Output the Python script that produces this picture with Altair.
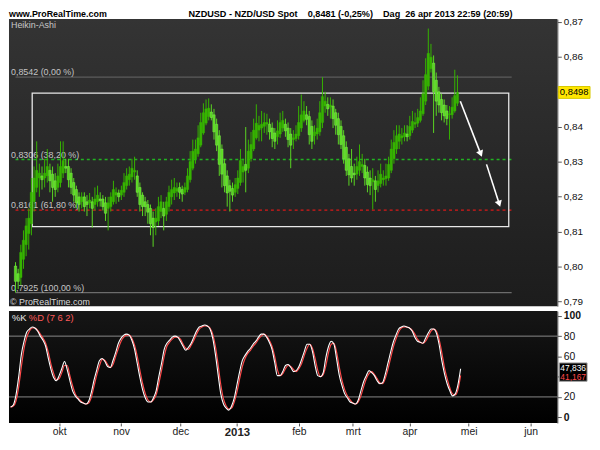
import json
import altair as alt
import pandas as pd

# ---------------- data ----------------
IDX = list(range(-18, 150))  # trading-day index, 0 = 1 okt 2012

OPEN = [8001,7979,7968,8020,8062,8094,8122,8185,8226,8253,8259,8253,8259,8275,8264,8245,8226,8240,
        8267,8286,8286,8267,8240,8220,8199,8185,8199,8185,
        8182,8185,8177,8185,8193,8193,8182,8166,8171,8185,
        8204,8210,8204,8212,8231,8248,8256,8270,8259,8226,
        8204,8185,8177,8166,8138,8127,8130,8157,8166,8149,
        8171,8199,8210,8215,8226,8220,8212,8220,8248,8281,
        8308,8322,8347,8382,8410,8429,8442,8434,8407,8374,
        8336,8294,8259,8231,8223,8212,8223,8240,8270,8292,
        8281,8308,8336,8368,8390,8396,8401,8407,8407,8396,
        8382,8371,8379,8396,8407,8396,8379,8363,8366,8374,
        8396,8418,8434,8429,8401,8374,8379,8385,8412,8459,
        8464,8456,8459,8440,8423,8401,8374,8341,8308,8286,
        8267,8264,8275,8286,8289,8270,8253,8242,8245,8231,
        8237,8248,8251,8253,8275,8308,8336,8358,8368,8371,
        8379,8374,8390,8407,8410,8418,8437,8473,8516,8566,
        8582,8533,8500,8478,8462,8445,8434,8434,8445,8467]

CLOSE = [7957,7957,8040,8075,8116,8138,8212,8253,8275,8267,8248,8267,8286,8245,8226,8220,8259,8286,
         8303,8281,8248,8226,8204,8182,8177,8199,8171,8177,
         8190,8166,8193,8204,8188,8171,8152,8182,8199,8220,
         8212,8199,8218,8240,8259,8264,8281,8275,8212,8177,
         8171,8171,8155,8122,8111,8138,8171,8185,8144,8185,
         8212,8220,8226,8223,8212,8207,8226,8259,8300,8330,
         8336,8368,8412,8440,8451,8453,8426,8385,8347,8292,
         8264,8231,8210,8215,8204,8234,8253,8303,8286,8275,
         8330,8349,8390,8410,8404,8407,8412,8412,8385,8366,
         8358,8388,8412,8418,8388,8363,8347,8368,8379,8412,
         8434,8445,8421,8377,8358,8385,8396,8440,8486,8473,
         8451,8462,8423,8404,8377,8349,8308,8275,8262,8253,
         8262,8286,8300,8292,8253,8234,8231,8248,8220,8245,
         8264,8253,8259,8292,8336,8355,8374,8379,8374,8382,
         8371,8401,8415,8412,8426,8445,8494,8549,8610,8599,
         8500,8473,8462,8440,8431,8423,8437,8456,8489,8498]

HIGH = [8012,7993,8062,8103,8138,8166,8253,8286,8358,8294,8286,8308,8336,8294,8286,8267,8294,8358,
        8358,8308,8308,8281,8253,8231,8212,8212,8212,8204,
        8210,8199,8226,8231,8212,8204,8199,8199,8212,8245,
        8226,8220,8231,8267,8281,8286,8308,8314,8275,8240,
        8212,8199,8190,8177,8157,8166,8199,8204,8185,8199,
        8231,8248,8253,8240,8240,8231,8240,8281,8330,8363,
        8363,8404,8440,8467,8478,8481,8464,8451,8423,8390,
        8349,8308,8275,8248,8240,8253,8275,8336,8308,8399,
        8363,8385,8423,8464,8431,8445,8440,8437,8423,8412,
        8396,8418,8440,8445,8423,8412,8396,8390,8404,8459,
        8492,8473,8459,8445,8418,8404,8423,8473,8542,8500,
        8484,8484,8478,8451,8440,8418,8390,8358,8322,8336,
        8294,8314,8349,8322,8308,8286,8275,8281,8259,8275,
        8294,8275,8294,8314,8363,8390,8404,8404,8396,8404,
        8404,8431,8445,8440,8451,8484,8533,8596,8681,8637,
        8604,8555,8514,8494,8478,8462,8459,8484,8563,8547]

LOW = [7925,7935,7946,7993,8029,8048,8089,8157,8212,8199,8220,8226,8240,8212,8185,8199,8212,8226,
       8253,8267,8226,8207,8185,8166,8157,8166,8157,8144,
       8166,8111,8160,8171,8171,8160,8130,8103,8157,8177,
       8179,8185,8190,8199,8220,8231,8240,8248,8199,8157,
       8144,8144,8122,8089,8056,8089,8116,8138,8103,8130,
       8157,8177,8190,8199,8193,8185,8204,8212,8240,8275,
       8294,8314,8341,8377,8404,8418,8418,8363,8330,8259,
       8226,8212,8171,8157,8185,8199,8207,8231,8240,8212,
       8267,8300,8330,8363,8358,8358,8382,8377,8363,8341,
       8336,8349,8368,8385,8371,8341,8281,8336,8358,8363,
       8385,8412,8404,8349,8336,8349,8363,8374,8396,8440,
       8431,8423,8396,8377,8349,8336,8294,8259,8231,8240,
       8231,8248,8259,8267,8231,8212,8204,8163,8185,8212,
       8226,8231,8231,8245,8267,8294,8322,8336,8349,8358,
       8358,8363,8382,8396,8399,8412,8431,8462,8505,8555,
       8382,8431,8440,8418,8412,8404,8363,8423,8440,8459]

STOCH_K = [10,12,22,40,62,75,84,87,89,88,85,80,76,70,58,47,39,36,
           41,48,55,47,36,26,21,18,15,14,
           13,16,25,37,47,56,58,55,50,49,
           56,64,73,78,81,82,81,76,67,53,
           39,27,19,15,15,19,26,40,53,67,
           73,76,79,80,79,75,70,66,69,73,
           79,85,89,90,91,90,87,78,62,42,
           23,13,9,7,11,19,32,45,56,61,
           65,68,72,75,79,82,82,79,74,67,
           54,41,41,45,51,52,49,45,46,50,
           57,65,72,72,65,51,41,40,44,59,
           70,75,72,57,41,31,23,19,15,14,
           13,17,26,35,41,46,44,41,36,33,
           34,42,53,64,74,81,87,89,90,89,
           88,85,79,75,74,73,78,83,87,87,
           83,72,56,43,33,26,21,23,32,47.836]

STOCH_D = [10,11,16,30,50,68,79,85,88,88,86,82,78,73,64,52,43,37,
           38,44,51,51,41,31,23,19,16,14,
           13,14,20,31,42,51,57,56,52,49,
           52,60,68,75,79,81,81,78,71,60,
           46,33,23,17,15,17,22,33,46,60,
           70,74,77,79,79,77,72,68,67,71,
           76,82,87,89,90,90,88,82,70,52,
           32,18,11,8,9,15,25,38,50,58,
           63,66,70,73,77,80,82,80,76,70,
           60,47,41,43,48,51,50,47,45,48,
           53,61,68,72,68,58,46,40,42,51,
           64,72,73,64,49,36,27,21,17,14,
           13,15,21,30,38,43,45,42,38,34,
           33,38,47,58,69,77,84,88,89,89,
           88,86,82,77,74,73,75,80,85,87,
           85,77,64,49,38,29,23,22,27,41.167]

MONTH_POS = [0, 23, 45, 66, 89, 109, 130, 152, 175]
MONTH_LAB = ["okt", "nov", "dec", "2013", "feb", "mrt", "apr", "mei", "jun"]
PRICE_TICKS = [0.79, 0.80, 0.81, 0.82, 0.83, 0.84, 0.85, 0.86, 0.87]
STOCH_TICKS = [0, 20, 40, 60, 80, 100]
STOCH_LEVELS = [20, 80]

FIB_PRICE = [0.8542, 0.8306, 0.8161, 0.7925]
FIB_LABEL = ["0,8542 (0,00 %)", "0,8306 (38,20 %)", "0,8161 (61,80 %)", "0,7925 (100,00 %)"]
FIB_FROM, FIB_TO = -18, 169.5

BOX_X = [-11.7, 168.4]
BOX_P = [0.8496, 0.8114]

ARROW_X1 = [150.1, 160.0]
ARROW_P1 = [0.8473, 0.8292]
ARROW_X2 = [157.8, 164.8]
ARROW_P2 = [0.8322, 0.8179]
ARROW_ANGLE = [158.5, 162]

LAST_PRICE = 0.8498
HEADER_LEFT = "www.ProRealTime.com"
HEADER_MAIN = "NZDUSD - NZD/USD Spot\u00a0\u00a0\u00a0 0,8481 (-0,25%)\u00a0\u00a0\u00a0 Dag\u00a0 26 apr 2013 22:59 (20:59)"

# ---------------- layout ----------------
W, H1, H2 = 554, 290, 113
FONT = "Liberation Sans"

df = pd.DataFrame({
    "i": IDX,
    "open": [v / 10000 for v in OPEN],
    "close": [v / 10000 for v in CLOSE],
    "high": [v / 10000 for v in HIGH],
    "low": [v / 10000 for v in LOW],
    "K": STOCH_K,
    "D": STOCH_D,
})
df["dir"] = ["up" if c >= o else "down" for o, c in zip(OPEN, CLOSE)]

one = pd.DataFrame({"a": [0]})

xs = alt.Scale(domain=[-18.6, 184.9], nice=False, zero=False)
ys = alt.Scale(domain=[0.7886, 0.8708], nice=False, zero=False)
ys2 = alt.Scale(domain=[-5.7, 104.7], nice=False, zero=False)

price_axis = alt.Axis(
    orient="right", values=PRICE_TICKS, title=None, grid=False,
    labelExpr="datum.value == %s ? '' : replace(format(datum.value, '.2f'), '.', ',')" % round(LAST_PRICE, 2),
    tickSize=4, tickColor="#555", domainColor="#555", labelColor="#111",
    labelFontSize=10, labelPadding=2,
)
stoch_axis = alt.Axis(
    orient="right", values=STOCH_TICKS, title=None, grid=False,
    labelExpr="datum.value == 40 ? '' : datum.label",
    tickSize=4, tickColor="#555", domainColor="#555", labelColor="#111",
    labelFontSize=10.5, labelPadding=2,
    labelFontWeight=alt.condition("datum.value == 0 || datum.value == 100", alt.value("bold"), alt.value("normal")),
)
month_axis = alt.Axis(
    values=MONTH_POS, title=None, grid=False, domain=False,
    labelExpr="%s[indexof(%s, datum.value)]" % (json.dumps(MONTH_LAB), json.dumps(MONTH_POS)),
    tickSize=3, tickColor="#555", labelColor="#222", labelPadding=1,
    labelFontSize=alt.condition("datum.value == 66", alt.value(11.5), alt.value(10.5)),
    labelFontWeight=alt.condition("datum.value == 66", alt.value("bold"), alt.value("normal")),
)

X = alt.X("i:Q", scale=xs, axis=None)


def grad(c1, c2):
    return {"gradient": "linear", "x1": 0, "x2": 0, "y1": 0, "y2": 1,
            "stops": [{"offset": 0, "color": c1}, {"offset": 1, "color": c2}]}


# ---------------- top panel ----------------
bg1 = alt.Chart(one).mark_rect(color=grad("#343434", "#1c1c1c")).encode(
    x=alt.value(0), x2=alt.value(W), y=alt.value(0), y2=alt.value(H1))

fib_df = pd.DataFrame({"p": FIB_PRICE, "t": FIB_LABEL, "x1": FIB_FROM, "x2": FIB_TO})
fib_styles = [("#5c5c5c", [1, 0]), ("#22b222", [3, 3]), ("#d81818", [3, 3]), ("#6c6c6c", [1, 0])]
fib_layers = []
for k, (col, dash) in enumerate(fib_styles):
    fib_layers.append(
        alt.Chart(fib_df.iloc[[k]]).mark_rule(color=col, strokeDash=dash, strokeWidth=1.3).encode(
            x=alt.X("x1:Q", scale=xs, axis=None), x2="x2:Q",
            y=alt.Y("p:Q", scale=ys, axis=price_axis)))
fib_text = alt.Chart(fib_df).mark_text(align="left", baseline="middle", dy=-5, fontSize=9,
                                       color="#c4c4c4").encode(
    x=alt.value(2), y=alt.Y("p:Q", scale=ys, axis=price_axis), text="t:N")

box_df = pd.DataFrame({"x1": [BOX_X[0]], "x2": [BOX_X[1]], "p1": [BOX_P[0]], "p2": [BOX_P[1]]})
box = alt.Chart(box_df).mark_rect(fillOpacity=0, stroke="#e8e8e8", strokeWidth=1.3).encode(
    x=alt.X("x1:Q", scale=xs, axis=None), x2="x2:Q",
    y=alt.Y("p1:Q", scale=ys, axis=price_axis), y2="p2:Q")

dir_wick = alt.Color("dir:N", scale=alt.Scale(domain=["up", "down"], range=["#36b400", "#5ad622"]), legend=None)
wicks = alt.Chart(df).mark_rule(strokeWidth=1).encode(
    x=X, y=alt.Y("low:Q", scale=ys, axis=price_axis), y2="high:Q", color=dir_wick)
bodies = alt.Chart(df).mark_bar(size=2.4, strokeWidth=0.4).encode(
    x=X, y=alt.Y("open:Q", scale=ys, axis=price_axis), y2="close:Q",
    color=alt.Color("dir:N", scale=alt.Scale(domain=["up", "down"], range=["#278a00", "#eaffdc"]), legend=None),
    stroke=alt.Stroke("dir:N", scale=alt.Scale(domain=["up", "down"], range=["#38b800", "#8cff5a"]), legend=None))

arr_df = pd.DataFrame({"x1": ARROW_X1, "p1": ARROW_P1, "x2": ARROW_X2, "p2": ARROW_P2, "ang": ARROW_ANGLE})
arrows = alt.Chart(arr_df).mark_rule(color="#ffffff", strokeWidth=1.6).encode(
    x=alt.X("x1:Q", scale=xs, axis=None), x2="x2:Q",
    y=alt.Y("p1:Q", scale=ys, axis=price_axis), y2="p2:Q")
heads = alt.Chart(arr_df).mark_point(shape="triangle-up", filled=True, color="#ffffff", size=55, opacity=1).encode(
    x=alt.X("x2:Q", scale=xs, axis=None), y=alt.Y("p2:Q", scale=ys, axis=price_axis),
    angle=alt.Angle("ang:Q", scale=None))

ha_label = alt.Chart(one).mark_text(text="Heikin-Ashi", align="left", baseline="middle", fontSize=9,
                                    color="#c8c8c8").encode(x=alt.value(2), y=alt.value(6))
copy_label = alt.Chart(one).mark_text(text="\u00a9 ProRealTime.com", align="left", baseline="middle", fontSize=9,
                                      color="#d8d8d8").encode(x=alt.value(1), y=alt.value(H1 - 4))
head_left = alt.Chart(one).mark_text(text=HEADER_LEFT, align="left", baseline="middle", fontSize=9,
                                     fontWeight="bold", color="#000").encode(x=alt.value(0), y=alt.value(-5))
head_main = alt.Chart(one).mark_text(text=HEADER_MAIN, align="center", baseline="middle", fontSize=9.2,
                                     fontWeight="bold", color="#000").encode(x=alt.value(345), y=alt.value(-5))

last_df = pd.DataFrame({"p": [LAST_PRICE], "t": [("%.4f" % LAST_PRICE).replace(".", ",")]})
price_box = alt.Chart(last_df).mark_point(
    shape="M-1,-0.375L1,-0.375L1,0.375L-1,0.375Z", filled=True, size=1024, opacity=1,
    fill="#ffe600", stroke="#d8c800", strokeWidth=1).encode(
    x=alt.value(W + 17), y=alt.Y("p:Q", scale=ys, axis=price_axis))
price_txt = alt.Chart(last_df).mark_text(fontSize=9.5, color="#000", baseline="middle").encode(
    x=alt.value(W + 17), y=alt.Y("p:Q", scale=ys, axis=price_axis), text="t:N")

top = alt.layer(bg1, *fib_layers, fib_text, box, wicks, bodies, arrows, heads,
                ha_label, copy_label, head_left, head_main, price_box, price_txt).properties(width=W, height=H1)

# ---------------- bottom panel ----------------
bg2 = alt.Chart(one).mark_rect(color=grad("#161616", "#000000")).encode(
    x=alt.value(0), x2=alt.value(W), y=alt.value(0), y2=alt.value(H2))
lvl_df = pd.DataFrame({"v": STOCH_LEVELS})
levels = alt.Chart(lvl_df).mark_rule(color="#8a8a8a", strokeWidth=1).encode(
    x=alt.value(0), x2=alt.value(W), y=alt.Y("v:Q", scale=ys2, axis=stoch_axis))
Xb = alt.X("i:Q", scale=xs, axis=month_axis)
d_line = alt.Chart(df).mark_line(color="#ff4a4a", strokeWidth=1.2, interpolate="monotone").encode(
    x=Xb, y=alt.Y("D:Q", scale=ys2, axis=stoch_axis))
k_line = alt.Chart(df).mark_line(color="#ffffff", strokeWidth=1.1, interpolate="monotone").encode(
    x=Xb, y=alt.Y("K:Q", scale=ys2, axis=stoch_axis))
k_lab = alt.Chart(one).mark_text(text="%K", align="left", baseline="middle", fontSize=9.5,
                                 color="#e8e8e8").encode(x=alt.value(3), y=alt.value(7))
d_lab = alt.Chart(one).mark_text(text="%D (7 6 2)", align="left", baseline="middle", fontSize=9.5,
                                 color="#ff5a5a").encode(x=alt.value(20), y=alt.value(7))

kv, dv = STOCH_K[-1], STOCH_D[-1]
val_df = pd.DataFrame({"v": [(kv + dv) / 2]})
val_box = alt.Chart(val_df).mark_point(
    shape="M-1,-0.66L1,-0.66L1,0.66L-1,0.66Z", filled=True, size=784, opacity=1,
    fill="#000000", stroke="#9a9a9a", strokeWidth=1).encode(
    x=alt.value(W + 16), y=alt.Y("v:Q", scale=ys2, axis=stoch_axis))
kt_df = pd.DataFrame({"v": [(kv + dv) / 2], "t": [("%.3f" % kv).replace(".", ",")]})
dt_df = pd.DataFrame({"v": [(kv + dv) / 2], "t": [("%.3f" % dv).replace(".", ",")]})
k_val = alt.Chart(kt_df).mark_text(fontSize=8.5, color="#ffffff", baseline="middle", dy=-4.5).encode(
    x=alt.value(W + 16), y=alt.Y("v:Q", scale=ys2, axis=stoch_axis), text="t:N")
d_val = alt.Chart(dt_df).mark_text(fontSize=8.5, color="#ff4a4a", baseline="middle", dy=4.5).encode(
    x=alt.value(W + 16), y=alt.Y("v:Q", scale=ys2, axis=stoch_axis), text="t:N")

bottom = alt.layer(bg2, levels, d_line, k_line, k_lab, d_lab, val_box, d_val, k_val).properties(width=W, height=H2)

chart = alt.vconcat(top, bottom, spacing=3).properties(
    padding=0, background="#ffffff"
).configure(font=FONT).configure_view(stroke=None)

chart.save("out.html", embed_options={"renderer": "svg", "actions": False})
